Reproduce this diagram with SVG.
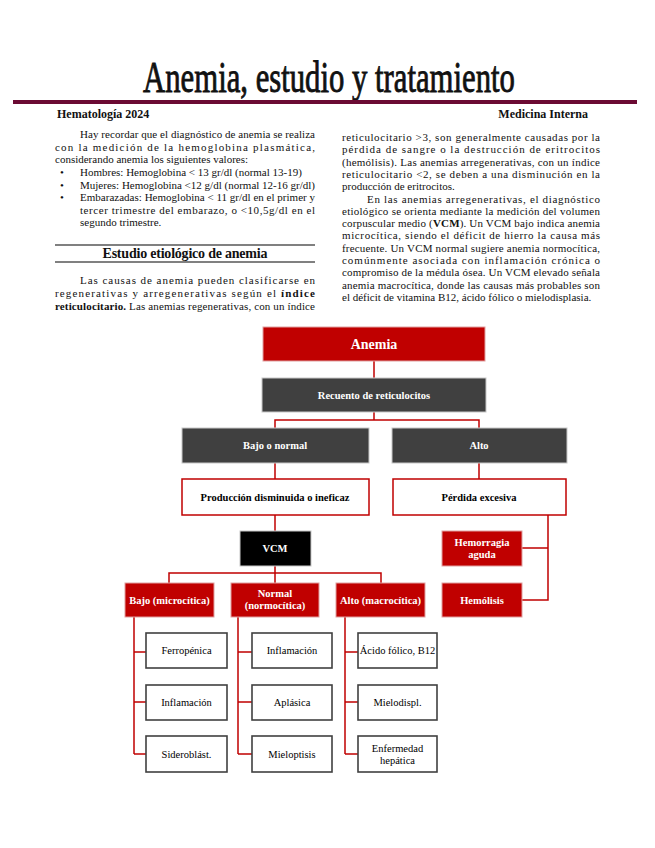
<svg xmlns="http://www.w3.org/2000/svg" width="655" height="848" viewBox="0 0 655 848">
<style>
.t{font-family:"Liberation Serif","Times New Roman",serif;font-size:11px;fill:#111}
.b{font-weight:bold}
.fw{font-family:"Liberation Serif","Times New Roman",serif;font-weight:bold;fill:#fff;text-anchor:middle}
.fk{font-family:"Liberation Serif","Times New Roman",serif;font-weight:bold;fill:#000;text-anchor:middle;font-size:10.5px}
.lf{font-family:"Liberation Serif","Times New Roman",serif;fill:#000;text-anchor:middle;font-size:10.5px}
.red{fill:#c00000;stroke:#e0a0a0;stroke-width:1}
.gry{fill:#404040;stroke:#c8c8c8;stroke-width:1}
.wr{fill:#fff;stroke:#c00000;stroke-width:1.5}
.leaf{fill:#fff;stroke:#404040;stroke-width:1.6}
.con{fill:none;stroke:#c00000;stroke-width:1.5}
</style>
<rect width="655" height="848" fill="#fff"/>
<!-- header -->
<text transform="translate(329 92) scale(0.698 1)" x="0" y="0" text-anchor="middle" font-family="Liberation Serif, serif" font-size="44" fill="#111" stroke="#111" stroke-width="0.9">Anemia, estudio y tratamiento</text>
<rect x="13" y="100" width="624" height="4" fill="#6b0a33"/>
<text x="57" y="118" class="t b" style="font-size:12px">Hematología 2024</text>
<text x="588" y="118" class="t b" text-anchor="end" style="font-size:12px">Medicina Interna</text>
<!-- left column -->
<text x="80" y="138" class="t" textLength="235">Hay recordar que el diagnóstico de anemia se realiza</text>
<text x="55" y="151" class="t" textLength="260">con la medición de la hemoglobina plasmática,</text>
<text x="55" y="163" class="t">considerando anemia los siguientes valores:</text>
<text x="60" y="176" class="t">•</text>
<text x="80" y="176" class="t">Hombres: Hemoglobina &lt; 13 gr/dl (normal 13-19)</text>
<text x="60" y="189" class="t">•</text>
<text x="80" y="189" class="t" textLength="235">Mujeres: Hemoglobina &lt;12 g/dl (normal 12-16 gr/dl)</text>
<text x="60" y="201" class="t">•</text>
<text x="80" y="201" class="t" textLength="235">Embarazadas: Hemoglobina &lt; 11 gr/dl en el primer y</text>
<text x="80" y="214" class="t" textLength="235">tercer trimestre del embarazo, o &lt;10,5g/dl en el</text>
<text x="80" y="226" class="t">segundo trimestre.</text>
<line x1="55" y1="245" x2="315" y2="245" stroke="#808080" stroke-width="2"/>
<line x1="55" y1="262" x2="315" y2="262" stroke="#808080" stroke-width="2"/>
<text x="185" y="258" class="t b" text-anchor="middle" style="font-size:14px" textLength="165">Estudio etiológico de anemia</text>
<text x="80" y="284" class="t" textLength="235">Las causas de anemia pueden clasificarse en</text>
<text x="55" y="297" class="t" textLength="260">regenerativas y arregenerativas según el <tspan class="b">índice</tspan></text>
<text x="55" y="310" class="t" textLength="260"><tspan class="b">reticulocitario.</tspan> Las anemias regenerativas, con un índice</text>
<!-- right column -->
<text x="342" y="141" class="t" textLength="258">reticulocitario &gt;3, son generalmente causadas por la</text>
<text x="342" y="153.3" class="t" textLength="258">pérdida de sangre o la destrucción de eritrocitos</text>
<text x="342" y="165.6" class="t" textLength="258">(hemólisis). Las anemias arregenerativas, con un índice</text>
<text x="342" y="177.9" class="t" textLength="258">reticulocitario &lt;2, se deben a una disminución en la</text>
<text x="342" y="190.2" class="t">producción de eritrocitos.</text>
<text x="367" y="202.5" class="t" textLength="233">En las anemias arregenerativas, el diagnóstico</text>
<text x="342" y="214.8" class="t" textLength="258">etiológico se orienta mediante la medición del volumen</text>
<text x="342" y="227.1" class="t" textLength="258">corpuscular medio (<tspan class="b">VCM</tspan>). Un VCM bajo indica anemia</text>
<text x="342" y="239.4" class="t" textLength="258">microcítica, siendo el déficit de hierro la causa más</text>
<text x="342" y="251.7" class="t" textLength="258">frecuente. Un VCM normal sugiere anemia normocítica,</text>
<text x="342" y="264" class="t" textLength="258">comúnmente asociada con inflamación crónica o</text>
<text x="342" y="276.3" class="t" textLength="258">compromiso de la médula ósea. Un VCM elevado señala</text>
<text x="342" y="288.6" class="t" textLength="258">anemia macrocítica, donde las causas más probables son</text>
<text x="342" y="300.9" class="t">el déficit de vitamina B12, ácido fólico o mielodisplasia.</text>
<!-- connectors -->
<g id="connectors">
<path class="con" d="M374 361V378"/>
<path class="con" d="M374 412V420M275 428V420H479V428"/>
<path class="con" d="M275 463V479M479 463V479"/>
<path class="con" d="M275 515V531"/>
<path class="con" d="M548 515V600H522M548 548H522"/>
<path class="con" d="M275 566V573M169 583V573H381V583M275 573V583"/>
<path class="con" d="M134 617V754M134 652H146M134 702H146M134 754H146"/>
<path class="con" d="M238 617V754M238 652H252M238 702H252M238 754H252"/>
<path class="con" d="M345 617V754M345 652H358M345 702H358M345 754H358"/>
</g>
<!-- nodes -->
<g id="n-anemia"><rect class="red" x="263" y="327" width="222" height="34"/><text class="fw" x="374" y="349" font-size="14">Anemia</text></g>
<g id="n-recuento"><rect class="gry" x="262" y="378" width="224" height="34"/><text class="fw" x="374" y="399" font-size="10.5">Recuento de reticulocitos</text></g>
<g id="n-bajo"><rect class="gry" x="182" y="428" width="187" height="35"/><text class="fw" x="275" y="449" font-size="10.5">Bajo o normal</text></g>
<g id="n-alto"><rect class="gry" x="392" y="428" width="175" height="35"/><text class="fw" x="479" y="449" font-size="10.5">Alto</text></g>
<g id="n-produccion"><rect class="wr" x="182" y="479" width="187" height="36"/><text class="fk" x="275" y="501">Producción disminuida o ineficaz</text></g>
<g id="n-perdida"><rect class="wr" x="393" y="479" width="173" height="36"/><text class="fk" x="479" y="501">Pérdida excesiva</text></g>
<g id="n-vcm"><rect x="240" y="531" width="71" height="35" fill="#000" stroke="#c8c8c8" stroke-width="1"/><text class="fw" x="275" y="552" font-size="10.5">VCM</text></g>
<g id="n-hemorragia"><rect class="red" x="442" y="531" width="80" height="35"/><text class="fw" x="482" y="546" font-size="10.5">Hemorragia</text><text class="fw" x="482" y="558" font-size="10.5">aguda</text></g>
<g id="n-hemolisis"><rect class="red" x="442" y="583" width="80" height="34"/><text class="fw" x="482" y="604" font-size="10.5">Hemólisis</text></g>
<g id="n-micro"><rect class="red" x="125" y="583" width="89" height="34"/><text class="fw" x="169.5" y="604" font-size="10.5">Bajo (microcítica)</text></g>
<g id="n-normo"><rect class="red" x="231" y="583" width="88" height="34"/><text class="fw" x="275" y="597" font-size="10.5">Normal</text><text class="fw" x="275" y="609" font-size="10.5">(normocítica)</text></g>
<g id="n-macro"><rect class="red" x="336" y="583" width="89" height="34"/><text class="fw" x="380.5" y="604" font-size="10.5">Alto (macrocítica)</text></g>
<g id="n-ferro"><rect class="leaf" x="146" y="633" width="81" height="35"/><text class="lf" x="186.5" y="654">Ferropénica</text></g>
<g id="n-infl1"><rect class="leaf" x="146" y="685" width="81" height="35"/><text class="lf" x="186.5" y="706">Inflamación</text></g>
<g id="n-sidero"><rect class="leaf" x="146" y="736" width="81" height="36"/><text class="lf" x="186.5" y="758">Sideroblást.</text></g>
<g id="n-infl2"><rect class="leaf" x="252" y="633" width="80" height="35"/><text class="lf" x="292" y="654">Inflamación</text></g>
<g id="n-aplas"><rect class="leaf" x="252" y="685" width="80" height="35"/><text class="lf" x="292" y="706">Aplásica</text></g>
<g id="n-mielop"><rect class="leaf" x="252" y="736" width="80" height="36"/><text class="lf" x="292" y="758">Mieloptisis</text></g>
<g id="n-acido"><rect class="leaf" x="358" y="633" width="79" height="35"/><text class="lf" x="397.5" y="654">Ácido fólico, B12</text></g>
<g id="n-mielod"><rect class="leaf" x="358" y="685" width="79" height="35"/><text class="lf" x="397.5" y="706">Mielodispl.</text></g>
<g id="n-hepat"><rect class="leaf" x="358" y="736" width="79" height="36"/><text class="lf" x="397.5" y="752">Enfermedad</text><text class="lf" x="397.5" y="764">hepática</text></g>
</svg>
